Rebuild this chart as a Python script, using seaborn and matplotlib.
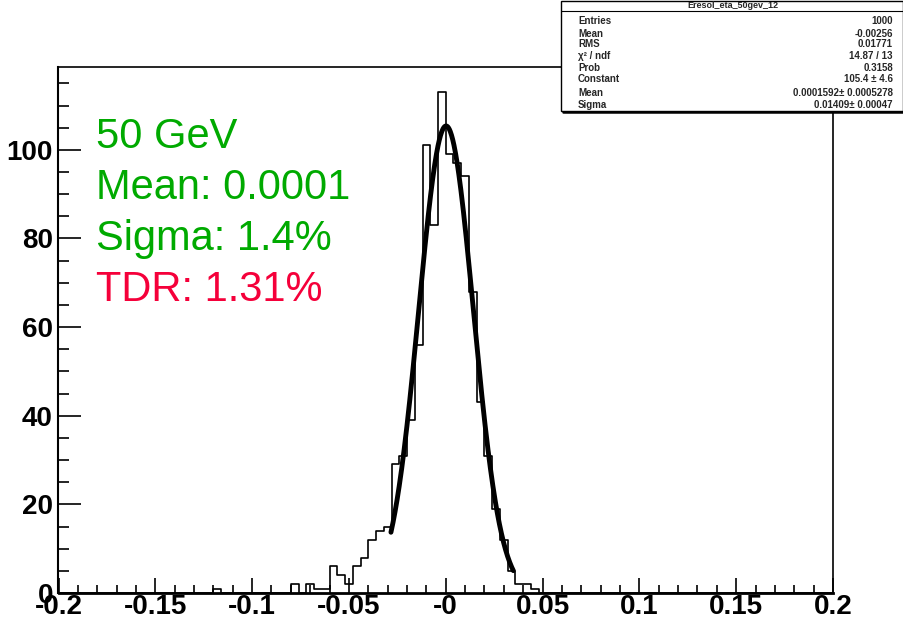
import numpy as np
import pandas as pd
import matplotlib
matplotlib.use("Agg")
import matplotlib.pyplot as plt
from matplotlib.patches import Rectangle
from matplotlib.lines import Line2D
import seaborn as sns

# histogram: 100 bins from -0.2 to 0.2, only filled bins listed
bin_index = [20, 30, 32, 33, 34, 35, 36, 37, 38, 39, 40, 41, 42, 43, 44, 45, 46,
             47, 48, 49, 50, 51, 52, 53, 54, 55, 56, 57, 58, 59, 60, 61]
counts = [1, 2, 2, 1, 1, 6, 4, 2, 6, 8, 12, 14, 15, 29, 31, 39, 56,
          101, 83, 113, 99, 97, 94, 68, 43, 31, 19, 12, 5, 2, 2, 1]

# gaus fit shown in the stats box
fit_const = 105.4
fit_mean = 0.0001592
fit_sigma = 0.01409
fit_range = [-0.0283, 0.0349]

xtick_vals = [-0.2, -0.15, -0.1, -0.05, 0.0, 0.05, 0.1, 0.15, 0.2]
xtick_text = ["-0.2", "-0.15", "-0.1", "-0.05", "-0", "0.05", "0.1", "0.15", "0.2"]
ytick_vals = [0, 20, 40, 60, 80, 100]

stat_names = ["Entries", "Mean", "RMS", "\u03c7\u00b2 / ndf", "Prob", "Constant", "Mean", "Sigma"]
stat_values = ["1000", "-0.00256", "0.01771", "14.87 / 13", "0.3158",
               "105.4 \u00b1 4.6", "0.0001592\u00b1 0.0005278", "0.01409\u00b1 0.00047"]
stat_rows_px = [21.5, 34, 44, 56, 68, 79.5, 93, 104.5]

sns.set_style("white")
plt.rcParams['font.family'] = ['Liberation Sans', 'DejaVu Sans']

centers = [-0.2 + 0.004 * i + 0.002 for i in bin_index]
hist = pd.DataFrame({"x": centers, "w": counts})

fig = plt.figure(figsize=(9.04, 6.21), dpi=100)
W, H = 904, 621
ax = fig.add_axes([58.5 / W, 1 - 593 / H, (833 - 58.5) / W, (593 - 67) / H])

sns.histplot(data=hist, x="x", weights="w", bins=100, binrange=(-0.2, 0.2),
             element="step", fill=False, color="black", linewidth=1.2, ax=ax)

xf = np.linspace(fit_range[0], fit_range[1], 300)
yf = fit_const * np.exp(-0.5 * ((xf - fit_mean) / fit_sigma) ** 2)
sns.lineplot(x=xf, y=yf, color="black", linewidth=3.5, ax=ax)

ax.set_xlim(-0.2, 0.2)
ax.set_ylim(0, 118.7)
ax.set_xlabel("")
ax.set_ylabel("")
ax.set_xticks(xtick_vals)
ax.set_xticklabels(xtick_text)
ax.set_xticks(np.arange(-0.2, 0.2001, 0.01), minor=True)
ax.set_yticks(ytick_vals)
ax.set_yticks(np.arange(0, 118, 5), minor=True)
for lab in ax.get_xticklabels() + ax.get_yticklabels():
    lab.set_fontweight("bold")
    lab.set_fontsize(20)
    lab.set_color("black")
ax.tick_params(bottom=True, left=True, top=False, right=False, which="both", color="black")
ax.tick_params(axis="x", which="major", direction="in", length=11, width=1.2, pad=1)
ax.tick_params(axis="x", which="minor", direction="in", length=5.5, width=1.2)
ax.tick_params(axis="y", which="major", direction="in", length=16.5, width=1.2, pad=4)
ax.tick_params(axis="y", which="minor", direction="in", length=8, width=1.2)
for s in ax.spines.values():
    s.set_color("black")
    s.set_linewidth(1.2)
ax.spines["bottom"].set_linewidth(2)
ax.spines["left"].set_linewidth(1.5)

# big annotations
green = "#00AA00"
red = "#F5003A"
lines = [("50 GeV", green, 148), ("Mean: 0.0001", green, 199),
         ("Sigma: 1.4%", green, 250), ("TDR: 1.31%", red, 301)]
for txt, col, yb in lines:
    fig.text(96 / W, 1 - yb / H, txt, color=col, fontsize=30, ha="left", va="baseline")

# stats box
bx0, by1 = 561, 111
fig.patches.append(Rectangle((bx0 / W, 1 - by1 / H), (903 - bx0) / W, by1 / H - 0.002,
                             transform=fig.transFigure, facecolor="white",
                             edgecolor="black", linewidth=1, zorder=5))
fig.lines.append(Line2D([bx0 / W, 903 / W], [1 - 11 / H, 1 - 11 / H],
                        transform=fig.transFigure, color="black", linewidth=0.8, zorder=6))
fig.lines.append(Line2D([(bx0 + 2) / W, 904 / W], [1 - 111.5 / H, 1 - 111.5 / H],
                        transform=fig.transFigure, color="black", linewidth=1.8, zorder=6))
fig.text(733 / W, 1 - 6 / H, "Eresol_eta_50gev_12", fontsize=6.5, fontweight="bold",
         ha="center", va="center", zorder=7)
for name, val, yp in zip(stat_names, stat_values, stat_rows_px):
    fig.text(578 / W, 1 - yp / H, name, fontsize=7, fontweight="bold",
             ha="left", va="center", zorder=7)
    fig.text(893 / W, 1 - yp / H, val, fontsize=7, fontweight="bold",
             ha="right", va="center", zorder=7)

fig.savefig("out.png", dpi=100)
